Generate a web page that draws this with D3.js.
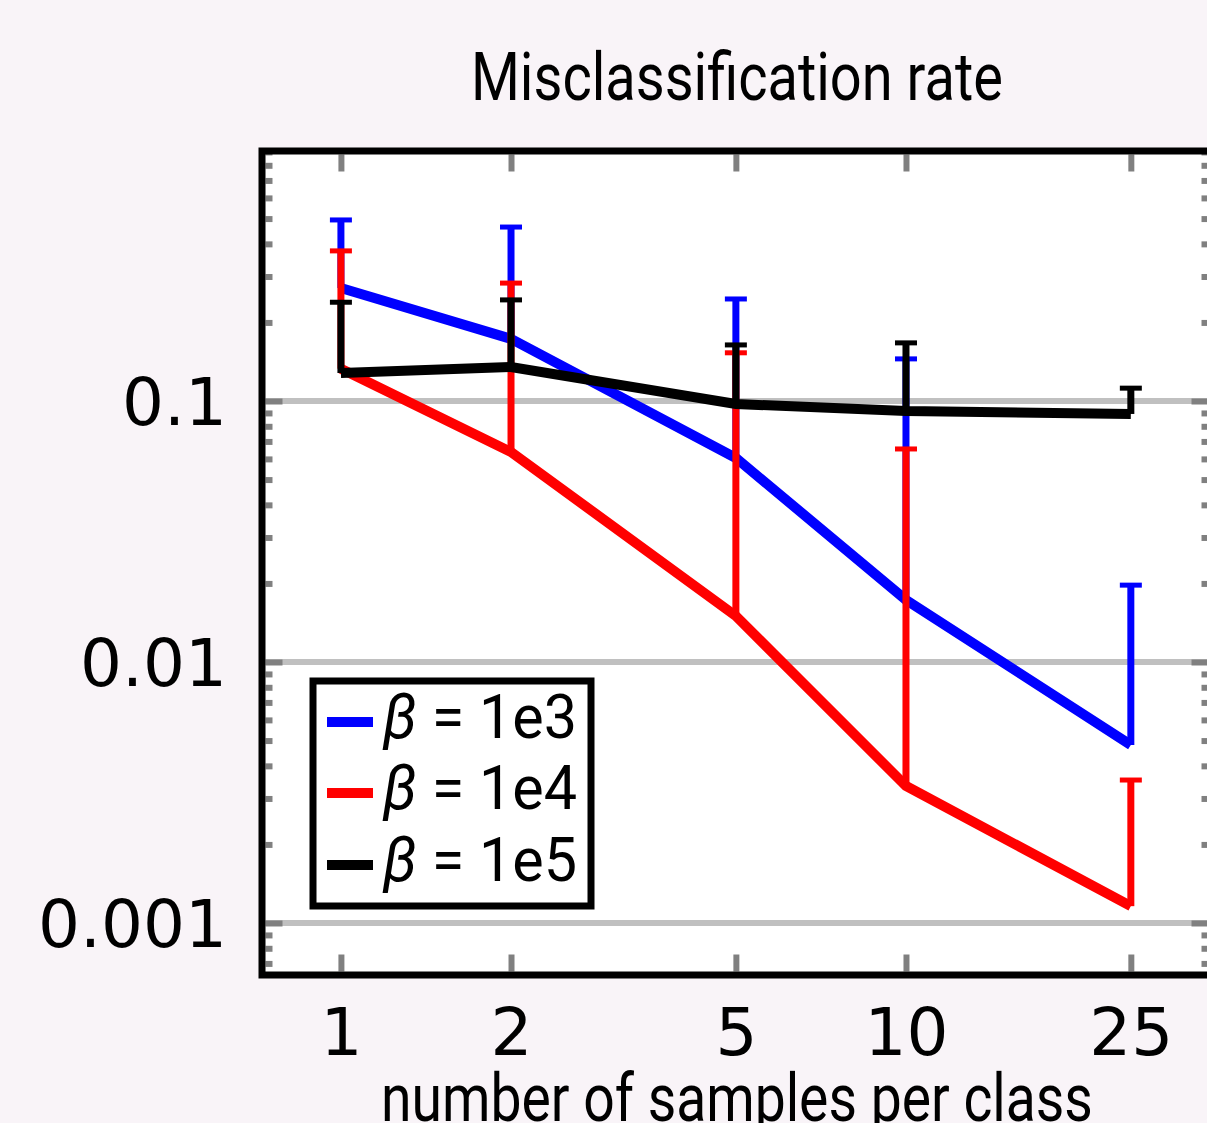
<!DOCTYPE html>
<html lang="en">
<head>
    <meta charset="UTF-8">
    <title>Misclassification rate</title>
    <script src="https://d3js.org/d3.v7.min.js"></script>
    <style>
        body {
            margin: 0;
            padding: 0;
            background-color: #f9f4f8;
        }
        svg {
            display: block;
        }
        .tick-mark line {
            stroke: #808080;
        }
        .num text {
            font-family: "DejaVu Sans", sans-serif;
            font-size: 66px;
            fill: #000;
        }
        .cond {
            font-family: Roboto, sans-serif;
            fill: #000;
        }
    </style>
</head>
<body>
    <svg width="1207" height="1123"></svg>

    <script>
        // samples per class (x axis)
        const samples = [1, 2, 5, 10, 25];
        const xTickLabels = ["1", "2", "5", "10", "25"];

        // y axis (log) major ticks
        const yTicks = [0.001, 0.01, 0.1];
        const yTickLabels = ["0.001", "0.01", "0.1"];

        // series names and colours
        const seriesNames = ["1e3", "1e4", "1e5"];
        const seriesColors = ["#0000ff", "#ff0000", "#000000"];

        // mean misclassification rate per series
        const meanB3 = [0.271, 0.173, 0.0605, 0.0173, 0.00481];
        const meanB4 = [0.133, 0.0638, 0.0150, 0.00335, 0.00116];
        const meanB5 = [0.128, 0.135, 0.0974, 0.0916, 0.0892];

        // upper end of the error bars
        const upperB3 = [0.494, 0.464, 0.246, 0.145, 0.0197];
        const upperB4 = [0.376, 0.283, 0.153, 0.0655, 0.00353];
        const upperB5 = [0.239, 0.244, 0.164, 0.167, 0.112];

        const means = [meanB3, meanB4, meanB5];
        const uppers = [upperB3, upperB4, upperB5];

        const svg = d3.select("svg");

        // plot box
        const boxL = 262, boxR = 1212, boxT = 151, boxB = 975;
        const inL = boxL + 3.5, inR = boxR - 3.5, inT = boxT + 3.5, inB = boxB - 3.5;

        const x = d3.scaleLog().domain([0.725, 34.8]).range([boxL, boxR]);
        const y = d3.scaleLog().domain([6.32e-4, 0.9076]).range([boxB, boxT]);

        // minor ticks on the log y axis
        const yMinor = [];
        [-4, -3, -2, -1].forEach(e => {
            for (let k = 2; k <= 9; k++) {
                const v = k * Math.pow(10, e);
                if (v > y.domain()[0] && v < y.domain()[1]) yMinor.push(v);
            }
        });

        svg.append("rect")
            .attr("x", boxL).attr("y", boxT)
            .attr("width", boxR - boxL).attr("height", boxB - boxT)
            .attr("fill", "#fff");

        // grid lines at decades
        svg.append("g")
            .selectAll("line")
            .data(yTicks)
            .join("line")
            .attr("x1", inL).attr("x2", inR)
            .attr("y1", d => y(d)).attr("y2", d => y(d))
            .attr("stroke", "#c0c0c0")
            .attr("stroke-width", 6);

        // tick marks (inward), drawn with d3 axes
        function ticks(axis, tx, ty, values, size, width) {
            const g = svg.append("g")
                .attr("class", "tick-mark")
                .attr("transform", `translate(${tx},${ty})`)
                .call(axis.tickValues(values).tickSize(size).tickFormat(""));
            g.select(".domain").remove();
            g.selectAll("line").attr("stroke-width", width);
        }
        ticks(d3.axisRight(y), inL, 0, yMinor, 7, 6);
        ticks(d3.axisRight(y), inL, 0, yTicks, 17, 6);
        ticks(d3.axisLeft(y), inR, 0, yMinor, 7, 6);
        ticks(d3.axisLeft(y), inR, 0, yTicks, 17, 6);
        ticks(d3.axisBottom(x), 0, inT, samples, 17, 6);
        ticks(d3.axisTop(x), 0, inB, samples, 17, 6);

        // tick labels
        const yAxis = svg.append("g")
            .attr("class", "num")
            .attr("transform", `translate(${boxL},0)`)
            .call(d3.axisLeft(y).tickValues(yTicks)
                .tickFormat((d, i) => yTickLabels[i])
                .tickSize(0).tickPadding(35));
        yAxis.select(".domain").remove();
        yAxis.selectAll("text").attr("dy", "0.36em");

        const xAxis = svg.append("g")
            .attr("class", "num")
            .attr("transform", `translate(0,${boxB})`)
            .call(d3.axisBottom(x).tickValues(samples)
                .tickFormat((d, i) => xTickLabels[i])
                .tickSize(0).tickPadding(33));
        xAxis.select(".domain").remove();
        xAxis.selectAll("text").attr("dy", "0.71em");

        // data series: line, then one-sided error bars
        const line = d3.line()
            .x((d, i) => x(samples[i]))
            .y(d => y(d));

        means.forEach((m, s) => {
            const g = svg.append("g");
            const c = seriesColors[s];
            g.append("path")
                .attr("d", line(m))
                .attr("fill", "none")
                .attr("stroke", c)
                .attr("stroke-width", 10);
            g.selectAll(".bar")
                .data(m)
                .join("line")
                .attr("x1", (d, i) => x(samples[i]))
                .attr("x2", (d, i) => x(samples[i]))
                .attr("y1", d => y(d))
                .attr("y2", (d, i) => y(uppers[s][i]))
                .attr("stroke", c)
                .attr("stroke-width", 7);
            g.selectAll(".cap")
                .data(uppers[s])
                .join("line")
                .attr("x1", (d, i) => x(samples[i]) - 11)
                .attr("x2", (d, i) => x(samples[i]) + 11)
                .attr("y1", d => y(d))
                .attr("y2", d => y(d))
                .attr("stroke", c)
                .attr("stroke-width", 5);
        });

        // condensed text: scale glyphs horizontally to a target width
        function fitText(sel, cx, baseline, width, anchor) {
            const w = sel.node().getComputedTextLength();
            const k = width / w;
            const x0 = anchor === "middle" ? cx - width / 2 : cx;
            sel.attr("x", 0).attr("y", 0)
                .attr("transform", `translate(${x0},${baseline}) scale(${k},1)`);
        }

        // legend
        const legend = svg.append("g");
        legend.append("rect")
            .attr("x", 313).attr("y", 681)
            .attr("width", 278).attr("height", 225)
            .attr("fill", "#fff")
            .attr("stroke", "#000")
            .attr("stroke-width", 7);
        const legY = [722, 793, 865];
        seriesNames.forEach((n, i) => {
            legend.append("line")
                .attr("x1", 327).attr("x2", 373)
                .attr("y1", legY[i]).attr("y2", legY[i])
                .attr("stroke", seriesColors[i])
                .attr("stroke-width", 10);
            const t = legend.append("text")
                .attr("class", "cond")
                .style("font-size", "62px");
            t.append("tspan").style("font-style", "italic").text("\u03b2");
            t.append("tspan").text(" = " + n);
            fitText(t, 383, legY[i] + 16, 194, "start");
        });

        // box
        svg.append("rect")
            .attr("x", boxL).attr("y", boxT)
            .attr("width", boxR - boxL).attr("height", boxB - boxT)
            .attr("fill", "none")
            .attr("stroke", "#000")
            .attr("stroke-width", 7);

        // title and axis label
        const title = svg.append("text")
            .attr("class", "cond")
            .style("font-size", "66px")
            .text("Misclassification rate");
        fitText(title, 737, 100, 532, "middle");

        const xLabel = svg.append("text")
            .attr("class", "cond")
            .style("font-size", "66px")
            .text("number of samples per class");
        fitText(xLabel, 737, 1121, 712, "middle");
    </script>
</body>
</html>
